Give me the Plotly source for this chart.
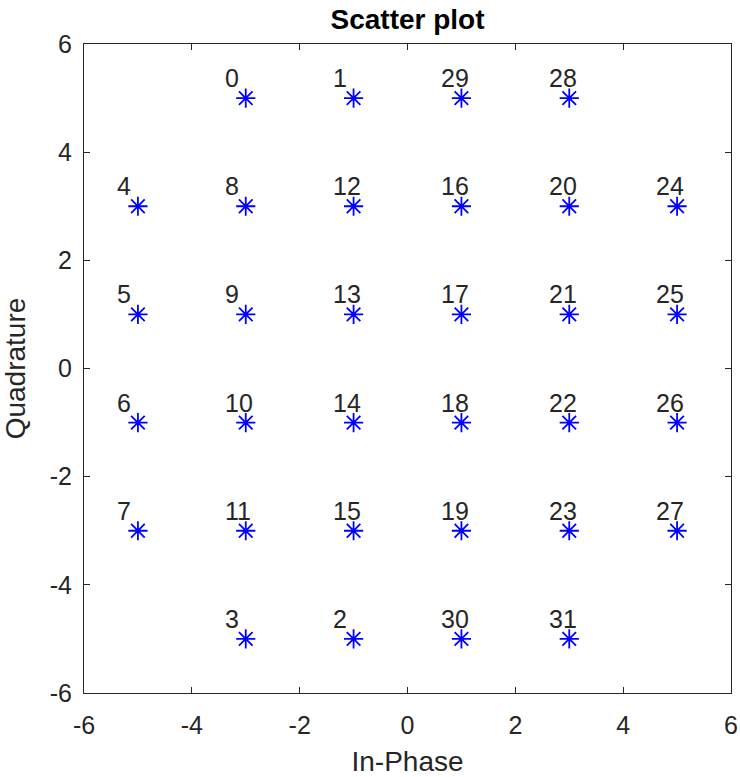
import plotly.graph_objects as go

# symbol index -> constellation point
symbols = list(range(32))
in_phase = [-3, -1, -1, -3, -5, -5, -5, -5, -3, -3, -3, -3, -1, -1, -1, -1,
            1, 1, 1, 1, 3, 3, 3, 3, 5, 5, 5, 5, 3, 1, 1, 3]
quadrature = [5, 5, -5, -5, 3, 1, -1, -3, 3, 1, -1, -3, 3, 1, -1, -3,
              3, 1, -1, -3, 3, 1, -1, -3, 3, 1, -1, -3, 5, 5, -5, -5]
tick_vals = [-6, -4, -2, 0, 2, 4, 6]
tick_text = ["-6", "-4", "-2", "0", "2", "4", "6"]

font_family = "Liberation Sans, Arial, sans-serif"
grey = "#262626"

fig = go.Figure()
fig.add_trace(go.Scatter(
    x=in_phase, y=quadrature, mode="markers",
    marker=dict(symbol="asterisk-open", size=16, color="#0000ff",
                line=dict(color="#0000ff", width=1.8)),
    showlegend=False, cliponaxis=False, hoverinfo="skip",
))

# labels sit up and to the left of each point
for s, xi, yi in zip(symbols, in_phase, quadrature):
    fig.add_annotation(x=xi - 0.42, y=yi + 0.37, text=str(s), showarrow=False,
                       xanchor="left", yanchor="middle",
                       font=dict(size=25, color=grey, family=font_family))

axis_style = dict(
    range=[-6, 6], tickvals=tick_vals, ticktext=tick_text, ticks="inside",
    ticklen=6, tickcolor=grey, showline=True, linecolor=grey, linewidth=1,
    mirror="ticks", showgrid=False, zeroline=False, automargin=False,
    tickfont=dict(size=25, color=grey, family=font_family),
)

fig.update_layout(
    width=740, height=777,
    margin=dict(l=84, r=9, t=44, b=84),
    paper_bgcolor="white", plot_bgcolor="white",
    title=dict(text="<b>Scatter plot</b>", x=0.5, xref="paper", xanchor="center",
               y=0.975, yanchor="middle",
               font=dict(size=28, color="#000000", family=font_family)),
    xaxis=dict(axis_style, ticklabelstandoff=10,
               title=dict(text="In-Phase", standoff=14,
                          font=dict(size=28, color=grey, family=font_family))),
    yaxis=dict(axis_style, ticklabelstandoff=6,
               title=dict(text="Quadrature", standoff=18,
                          font=dict(size=28, color=grey, family=font_family))),
)

# drop the default page margin so the figure fills the window exactly
fig.write_html("out.html", config={"displayModeBar": False},
               post_script="document.body.style.margin='0';"
                           "document.body.style.overflow='hidden';")
